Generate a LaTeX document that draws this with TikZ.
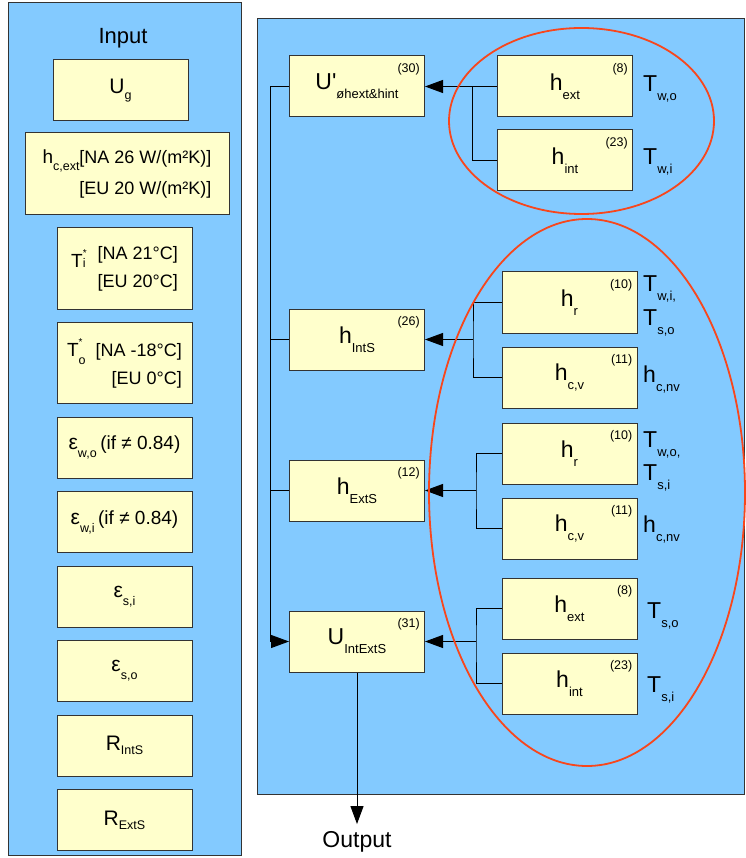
\documentclass[tikz,border=0pt]{standalone}
\usepackage{fontspec}
\setmainfont{Liberation Sans}
\usetikzlibrary{arrows.meta, positioning}
\definecolor{panelblue}{HTML}{83CAFF}
\definecolor{boxfill}{HTML}{FFFFCC}
\definecolor{ringred}{HTML}{F8461C}
\definecolor{edge}{HTML}{333333}

\newcommand\lowsub[1]{\raisebox{-9pt}{\fontsize{13}{15}\selectfont #1}}
\newcommand\insub[2][7pt]{\raisebox{-#1}{\fontsize{12.5}{14}\selectfont #2}}
\newcommand\tstar[3]{\raisebox{-#1}{{\fontsize{19}{22}\selectfont T}\rlap{\raisebox{11pt}{\fontsize{10}{10}\selectfont *}}\raisebox{-#2}{\fontsize{12.5}{14}\selectfont #3}}}

\begin{document}
\begin{tikzpicture}[
  x=1pt, y=-1pt,
  node distance=12.5pt,
  panel/.style={draw=edge, line width=1pt, fill=panelblue},
  box/.style={rectangle, draw=edge, line width=1pt, fill=boxfill, minimum width=135pt, minimum height=61pt, inner sep=0pt, font=\fontsize{23}{27}\selectfont},
  inbox/.style={box, font=\fontsize{21}{25}\selectfont},
  num/.style={inner sep=0pt, font=\fontsize{12.5}{14}\selectfont},
  lbl/.style={inner sep=0pt, anchor=base west, font=\fontsize{23}{27}\selectfont},
  wire/.style={line width=1pt},
  arrow/.style={-{Triangle[length=18pt, width=13pt]}, line width=1pt},
  ring/.style={draw=ringred, line width=1.8pt}
]
  \useasboundingbox (0,0) rectangle (745,858);

  % panels
  \draw[panel] (8,3) rectangle (241,855);
  \draw[panel] (257,19) rectangle (744.5,794);

  % input column
  \node[font=\fontsize{22}{26}\selectfont] (input) at (123,38) {Input};
  \node[inbox] (ug) at (120.5,90.5) {U\insub[6pt]{g}};
  \node[inbox, minimum width=204pt, minimum height=82pt, align=right, font=\fontsize{18}{31}\selectfont] (hce) at (127,174)
    {{\fontsize{19}{22}\selectfont h}\insub{c,ext}[NA 26 W/(m²K)]\\{}[EU 20 W/(m²K)]};
  \node[inbox, minimum height=81pt, align=right, font=\fontsize{18}{28}\selectfont] (ti) at (124.5,268.5)
    {\tstar{8pt}{0pt}{i}\hspace{12pt}[NA 21°C]\\{}[EU 20°C]};
  \node[inbox, minimum height=81pt, align=right, font=\fontsize{18}{28}\selectfont, below=of ti] (to)
    {\tstar{0pt}{8pt}{o}\hspace{10pt}[NA -18°C]\\{}[EU 0°C]};
  \node[inbox, below=of to] (ewo) {ε\insub[8pt]{w,o}\,{\fontsize{19}{22}\selectfont (if ≠ 0.84)}};
  \node[inbox, below=of ewo] (ewi) {ε\insub[8pt]{w,i}\,{\fontsize{19}{22}\selectfont (if ≠ 0.84)}};
  \node[inbox, below=of ewi] (esi) {ε\insub[8pt]{s,i}};
  \node[inbox, below=of esi] (eso) {ε\insub[8pt]{s,o}};
  \node[inbox, below=of eso] (rints) {R\insub[4pt]{IntS}};
  \node[inbox, below=of rints] (rexts) {R\insub[4pt]{ExtS}};

  % results column
  \node[box] (ua) at (357,86.5) {U\textquotesingle\lowsub{øhext\&hint}};
  \node[box] (hints) at (357,339.5) {h\lowsub{IntS}};
  \node[box] (hexts) at (357,490.5) {h\lowsub{ExtS}};
  \node[box] (uies) at (357,641.5) {U\lowsub{IntExtS}};

  % coefficient column
  \node[box] (hext1) at (565,86.5) {h\lowsub{ext}};
  \node[box, below=12pt of hext1] (hint1) {h\lowsub{int}};
  \node[box] (hr1) at (569.5,302.5) {h\lowsub{r}};
  \node[box, below=13pt of hr1] (hcv1) {h\lowsub{c,v}};
  \node[box] (hr2) at (569.5,453.5) {h\lowsub{r}};
  \node[box, below=13pt of hr2] (hcv2) {h\lowsub{c,v}};
  \node[box] (hext3) at (569.5,608.5) {h\lowsub{ext}};
  \node[box, below=13pt of hext3] (hint3) {h\lowsub{int}};

  % equation numbers
  \node[num, below left=8pt and 5pt of ua.north east] (n30) {(30)};
  \node[num, below left=8pt and 5pt of hints.north east] (n26) {(26)};
  \node[num, below left=8pt and 5pt of hexts.north east] (n12) {(12)};
  \node[num, below left=8pt and 5pt of uies.north east] (n31) {(31)};
  \node[num, below left=8pt and 5pt of hext1.north east] (n8a) {(8)};
  \node[num, below left=8pt and 5pt of hint1.north east] (n23a) {(23)};
  \node[num, below left=8pt and 5pt of hr1.north east] (n10a) {(10)};
  \node[num, below left=8pt and 5pt of hcv1.north east] (n11a) {(11)};
  \node[num, below left=8pt and 5pt of hr2.north east] (n10b) {(10)};
  \node[num, below left=8pt and 5pt of hcv2.north east] (n11b) {(11)};
  \node[num, below left=8pt and 5pt of hext3.north east] (n8b) {(8)};
  \node[num, below left=8pt and 5pt of hint3.north east] (n23b) {(23)};

  % side labels
  \node[lbl] (twoa) at (643,92) {T\lowsub{w,o}};
  \node[lbl] (twia) at (643,165) {T\lowsub{w,i}};
  \node[lbl] (twib) at (643,291) {T\lowsub{w,i,}};
  \node[lbl] (tsoa) at (643,325) {T\lowsub{s,o}};
  \node[lbl] (hcnva) at (643,382) {h\lowsub{c,nv}};
  \node[lbl] (twob) at (643,447) {T\lowsub{w,o,}};
  \node[lbl] (tsia) at (643,480) {T\lowsub{s,i}};
  \node[lbl] (hcnvb) at (643,532) {h\lowsub{c,nv}};
  \node[lbl] (tsob) at (647,618) {T\lowsub{s,o}};
  \node[lbl] (tsib) at (647,692) {T\lowsub{s,i}};

  % connectors
  \coordinate (spine) at (270,86.5);
  \draw[wire] (ua.west) -- (spine);
  \draw[arrow] (spine) |- (uies.west);
  \draw[wire] (hints.west) -- (hints.west -| spine);
  \draw[wire] (hexts.west) -- (hexts.west -| spine);

  \draw[arrow] (hext1.west) -- (ua.east);
  \draw[wire] (hint1.west) -- ++(-25,0) |- (hext1.west);

  \coordinate (j2) at (473,339.5);
  \draw[wire] (hr1.west) -| (j2) |- (hcv1.west);
  \draw[arrow] (j2) -- (hints.east);

  \coordinate (j3) at (476,490.5);
  \draw[wire] (hr2.west) -| (j3) |- (hcv2.west);
  \draw[arrow] (j3) -- (hexts.east);

  \coordinate (j4) at (476,641.5);
  \draw[wire] (hext3.west) -| (j4) |- (hint3.west);
  \draw[arrow] (j4) -- (uies.east);

  \node[font=\fontsize{23}{27}\selectfont] (out) at (357,842) {Output};
  \draw[arrow] (uies.south) -- ([yshift=4pt]out.north);

  % groups
  \draw[ring] (581.5,121) ellipse [x radius=132.5pt, y radius=93pt];
  \draw[ring] (587,492.5) ellipse [x radius=158pt, y radius=273.5pt];
\end{tikzpicture}
\end{document}
